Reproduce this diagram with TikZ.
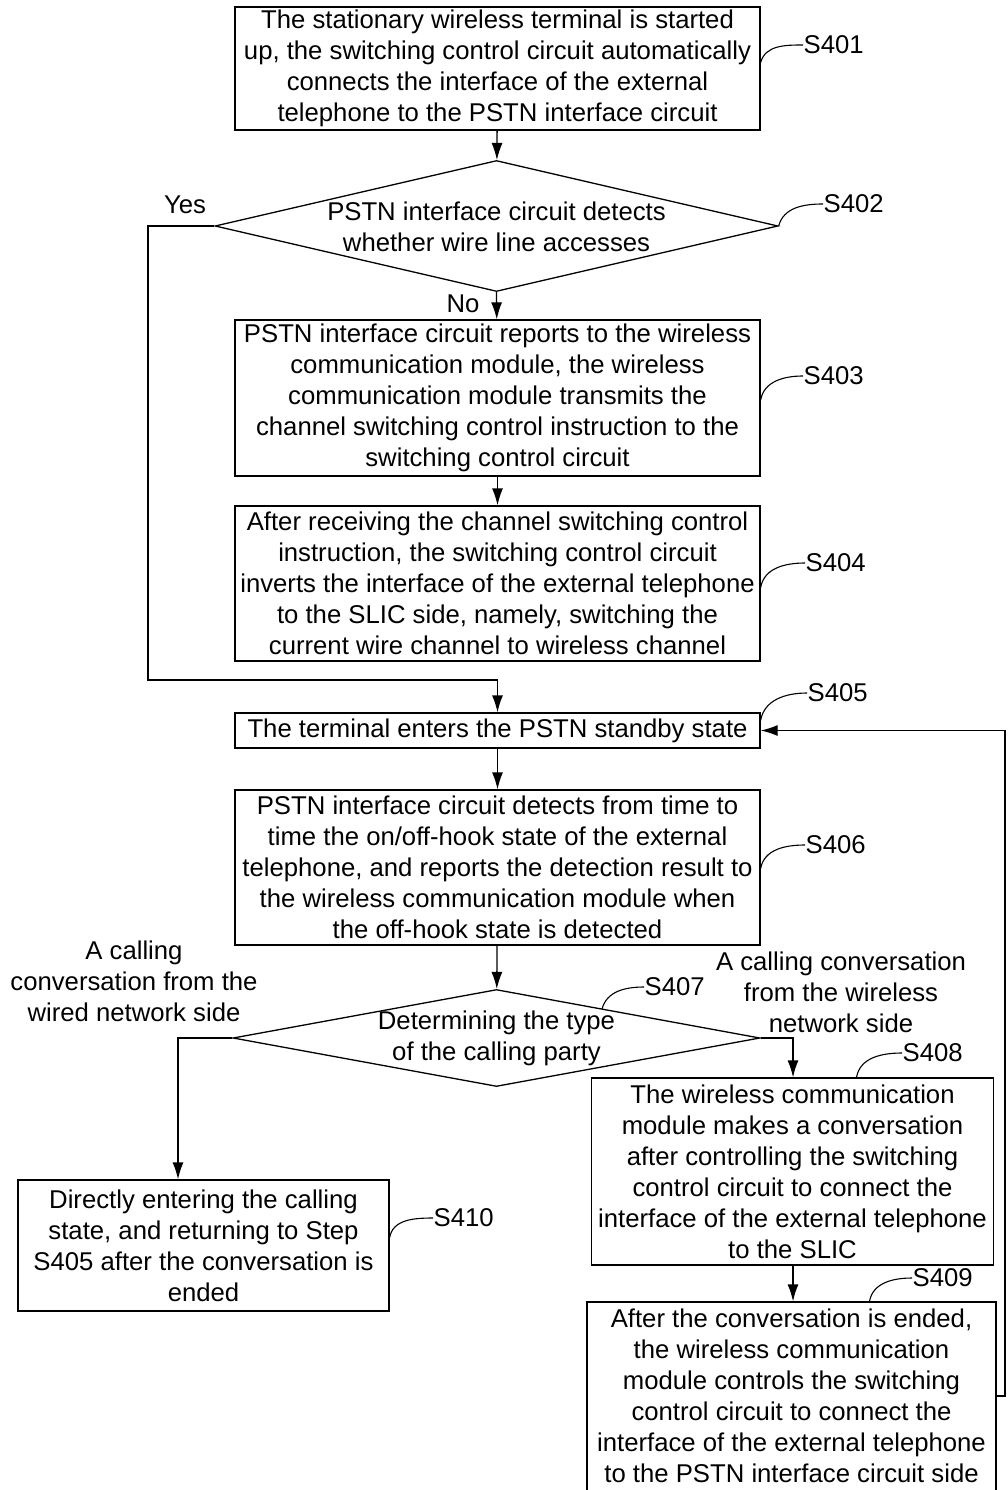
\documentclass[tikz,border=0pt]{standalone}
\usepackage{fontspec}
\setmainfont{Liberation Sans}
\usetikzlibrary{shapes.geometric,arrows.meta}
\begin{document}
\begin{tikzpicture}[x=1pt,y=-1pt,
  font=\fontsize{25.7}{31}\selectfont,
  line width=1.3pt,
  box/.style={draw, rectangle, inner sep=0pt, align=center},
  dia/.style={draw, diamond, inner sep=0pt},
  txt/.style={inner sep=0pt, align=center},
  flow/.style={-{Latex[length=17pt,width=11pt]}},
  lead/.style={line width=1.1pt},
  steplbl/.style={inner sep=0pt, anchor=west}]
\useasboundingbox (0,0) rectangle (1008,1490);

% process steps
\node[box, minimum width=525pt, minimum height=123pt] (s1) at (497.5,68.5)
  {The stationary wireless terminal is started\\up, the switching control circuit automatically\\connects the interface of the external\\telephone to the PSTN interface circuit};
\node[dia, minimum width=563pt, minimum height=131pt] (d1) at (496.5,226) {};
\node[txt] (d1t) at (496.5,227) {PSTN interface circuit detects\\whether wire line accesses};
\node[box, minimum width=525pt, minimum height=156pt] (s3) at (497.5,398)
  {PSTN interface circuit reports to the wireless\\communication module, the wireless\\communication module transmits the\\channel switching control instruction to the\\switching control circuit};
\node[box, minimum width=525pt, minimum height=155pt] (s4) at (497.5,583.5)
  {After receiving the channel switching control\\instruction, the switching control circuit\\inverts the interface of the external telephone\\to the SLIC side, namely, switching the\\current wire channel to wireless channel};
\node[box, minimum width=525pt, minimum height=35pt] (s5) at (497.5,730.5)
  {The terminal enters the PSTN standby state};
\node[box, minimum width=525pt, minimum height=155pt] (s6) at (497.5,867.5)
  {PSTN interface circuit detects from time to\\time the on/off-hook state of the external\\telephone, and reports the detection result to\\the wireless communication module when\\the off-hook state is detected};
\node[dia, minimum width=527pt, minimum height=97pt] (d2) at (496.5,1038) {};
\node[txt] (d2t) at (496.5,1038) {Determining the type\\of the calling party};
\node[box, minimum width=402pt, minimum height=187pt] (s8) at (792.5,1171.5)
  {The wireless communication\\module makes a conversation\\after controlling the switching\\control circuit to connect the\\interface of the external telephone\\to the SLIC};
\node[box, minimum width=409pt, minimum height=196pt] (s9) at (791.5,1400)
  {};
\node[txt] (s9t) at (791.5,1396)
  {After the conversation is ended,\\the wireless communication\\module controls the switching\\control circuit to connect the\\interface of the external telephone\\to the PSTN interface circuit side};
\node[box, minimum width=371pt, minimum height=131pt] (s10) at (203.5,1245.5)
  {Directly entering the calling\\state, and returning to Step\\S405 after the conversation is\\ended};

% branch labels
\node[txt] (yes) at (185,205) {Yes};
\node[txt] (no) at (463,304) {No};
\node[txt] (wired) at (134,981) {A calling\\conversation from the\\wired network side};
\node[txt] (wless) at (841,992) {A calling conversation\\from the wireless\\network side};

% main flow
\draw[flow] (s1) -- (d1);
\draw[flow] (d1.south) -- (s3);
\draw[flow] (s3) -- (s4);
\coordinate (yl) at (148,226);
\coordinate (yb) at (148,680);
\draw[flow] (d1.west) -- (yl) -- (yb) -- (yb -| s5.north) -- (s5.north);
\draw[flow] (s5) -- (s6);
\draw[flow] (s6) -- (d2);
\coordinate (wl) at (178,1038);
\draw[flow] (d2.west) -- (wl) -- (wl |- s10.north);
\coordinate (wr) at (793,1038);
\draw[flow] (d2.east) -- (wr) -- (wr |- s8.north);
\draw[flow] (s8.south -| wr) -- (s9.north -| wr);
\coordinate (fb) at (1005,1396);
\draw[flow] (s9.east |- fb) -- (fb) -- (fb |- s5.east) -- (s5.east);

% step numbers with leader curves
\node[steplbl] (l1) at (803,45) {S401};
\draw[lead] ([yshift=6pt]s1.east) to[out=75,in=180] (l1.west);
\node[steplbl] (l2) at (823,204) {S402};
\draw[lead] (d1.east) to[out=75,in=180] (l2.west);
\node[steplbl] (l3) at (803,376) {S403};
\draw[lead] ([yshift=-2pt]s3.east) to[out=80,in=180] (l3.west);
\node[steplbl] (l4) at (805,563) {S404};
\draw[lead] ([yshift=-4pt]s4.east) to[out=80,in=180] (l4.west);
\node[steplbl] (l5) at (807,693) {S405};
\draw[lead] ([yshift=-8pt]s5.north east) to[out=80,in=180] (l5.west);
\node[steplbl] (l6) at (805,845) {S406};
\draw[lead] ([yshift=-1pt]s6.east) to[out=80,in=180] (l6.west);
\node[steplbl] (l7) at (644,987) {S407};
\coordinate (d2e) at (602,1009);
\draw[lead] (d2e) to[out=75,in=180] (l7.west);
\node[steplbl] (l8) at (902,1053) {S408};
\draw[lead] ([xshift=64pt]s8.north) to[out=80,in=180] (l8.west);
\node[steplbl] (l9) at (912,1278) {S409};
\draw[lead] ([xshift=78pt]s9.north) to[out=80,in=180] (l9.west);
\node[steplbl] (l10) at (433,1218) {S410};
\draw[lead] ([yshift=8pt]s10.east) to[out=80,in=180] (l10.west);
\end{tikzpicture}
\end{document}
